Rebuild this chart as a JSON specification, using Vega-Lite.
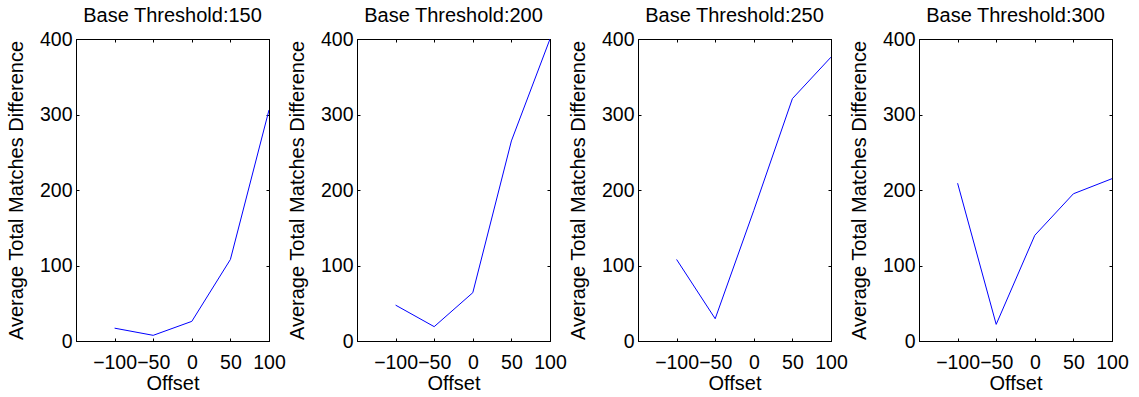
{
  "$schema": "https://vega.github.io/schema/vega-lite/v6.json",
  "padding": {"left": 5, "top": 5, "right": 5, "bottom": 0},
  "background": "#ffffff",
  "datasets": {
    "d": [
      {"threshold": 150, "offset": -100, "value": 17},
      {"threshold": 150, "offset": -50, "value": 7.5},
      {"threshold": 150, "offset": 0, "value": 26},
      {"threshold": 150, "offset": 50, "value": 108},
      {"threshold": 150, "offset": 100, "value": 306},
      {"threshold": 200, "offset": -100, "value": 47.5},
      {"threshold": 200, "offset": -50, "value": 19},
      {"threshold": 200, "offset": 0, "value": 64},
      {"threshold": 200, "offset": 50, "value": 265},
      {"threshold": 200, "offset": 100, "value": 400},
      {"threshold": 250, "offset": -100, "value": 108},
      {"threshold": 250, "offset": -50, "value": 29.5},
      {"threshold": 250, "offset": 0, "value": 173},
      {"threshold": 250, "offset": 50, "value": 321},
      {"threshold": 250, "offset": 100, "value": 376},
      {"threshold": 300, "offset": -100, "value": 209},
      {"threshold": 300, "offset": -50, "value": 22},
      {"threshold": 300, "offset": 0, "value": 140},
      {"threshold": 300, "offset": 50, "value": 195},
      {"threshold": 300, "offset": 100, "value": 215}
    ]
  },
  "config": {
    "font": "Liberation Sans",
    "view": {"stroke": "#000000", "strokeWidth": 1},
    "axis": {
      "grid": false,
      "domainColor": "#000000",
      "tickColor": "#000000",
      "labelColor": "#000000",
      "titleColor": "#000000",
      "labelFontSize": 19.5,
      "titleFontSize": 20,
      "titleFontWeight": "normal",
      "tickSize": -3,
      "labelOverlap": false,
      "labelBound": false,
      "labelFlush": false
    },
    "axisBottom": {"labelPadding": 15, "titlePadding": 2},
    "axisLeft": {"labelPadding": 7, "titlePadding": 13},
    "title": {"fontSize": 20, "fontWeight": "normal", "color": "#000000", "offset": 3, "anchor": "middle"}
  },
  "bounds": "flush",
  "spacing": 88,
  "hconcat": [
    {
      "title": "Base Threshold:150",
      "width": 193, "height": 302,
      "data": {"name": "d"},
      "transform": [{"filter": "datum.threshold == 150"}],
      "layer": [
        {"mark": {"type": "line", "color": "#0000ff", "strokeWidth": 1, "clip": true},
         "encoding": {
           "x": {"field": "offset", "type": "quantitative", "scale": {"domain": [-150, 100], "nice": false}, "axis": {"values": [-100, -50, 0, 50, 100], "title": "Offset"}},
           "y": {"field": "value", "type": "quantitative", "scale": {"domain": [0, 400], "nice": false}, "axis": {"values": [0, 100, 200, 300, 400], "title": "Average Total Matches Difference"}}
         }},
        {"mark": {"type": "line", "opacity": 0},
         "encoding": {
           "x": {"field": "offset", "type": "quantitative", "scale": {"domain": [-150, 100], "nice": false}, "axis": {"orient": "top", "values": [-100, -50, 0, 50, 100], "labels": false, "title": null}},
           "y": {"field": "value", "type": "quantitative", "scale": {"domain": [0, 400], "nice": false}, "axis": {"orient": "right", "values": [0, 100, 200, 300, 400], "labels": false, "title": null}}
         }}
      ],
      "resolve": {"scale": {"x": "independent", "y": "independent"}}
    },
    {
      "title": "Base Threshold:200",
      "width": 193, "height": 302,
      "data": {"name": "d"},
      "transform": [{"filter": "datum.threshold == 200"}],
      "layer": [
        {"mark": {"type": "line", "color": "#0000ff", "strokeWidth": 1, "clip": true},
         "encoding": {
           "x": {"field": "offset", "type": "quantitative", "scale": {"domain": [-150, 100], "nice": false}, "axis": {"values": [-100, -50, 0, 50, 100], "title": "Offset"}},
           "y": {"field": "value", "type": "quantitative", "scale": {"domain": [0, 400], "nice": false}, "axis": {"values": [0, 100, 200, 300, 400], "title": "Average Total Matches Difference"}}
         }},
        {"mark": {"type": "line", "opacity": 0},
         "encoding": {
           "x": {"field": "offset", "type": "quantitative", "scale": {"domain": [-150, 100], "nice": false}, "axis": {"orient": "top", "values": [-100, -50, 0, 50, 100], "labels": false, "title": null}},
           "y": {"field": "value", "type": "quantitative", "scale": {"domain": [0, 400], "nice": false}, "axis": {"orient": "right", "values": [0, 100, 200, 300, 400], "labels": false, "title": null}}
         }}
      ],
      "resolve": {"scale": {"x": "independent", "y": "independent"}}
    },
    {
      "title": "Base Threshold:250",
      "width": 193, "height": 302,
      "data": {"name": "d"},
      "transform": [{"filter": "datum.threshold == 250"}],
      "layer": [
        {"mark": {"type": "line", "color": "#0000ff", "strokeWidth": 1, "clip": true},
         "encoding": {
           "x": {"field": "offset", "type": "quantitative", "scale": {"domain": [-150, 100], "nice": false}, "axis": {"values": [-100, -50, 0, 50, 100], "title": "Offset"}},
           "y": {"field": "value", "type": "quantitative", "scale": {"domain": [0, 400], "nice": false}, "axis": {"values": [0, 100, 200, 300, 400], "title": "Average Total Matches Difference"}}
         }},
        {"mark": {"type": "line", "opacity": 0},
         "encoding": {
           "x": {"field": "offset", "type": "quantitative", "scale": {"domain": [-150, 100], "nice": false}, "axis": {"orient": "top", "values": [-100, -50, 0, 50, 100], "labels": false, "title": null}},
           "y": {"field": "value", "type": "quantitative", "scale": {"domain": [0, 400], "nice": false}, "axis": {"orient": "right", "values": [0, 100, 200, 300, 400], "labels": false, "title": null}}
         }}
      ],
      "resolve": {"scale": {"x": "independent", "y": "independent"}}
    },
    {
      "title": "Base Threshold:300",
      "width": 193, "height": 302,
      "data": {"name": "d"},
      "transform": [{"filter": "datum.threshold == 300"}],
      "layer": [
        {"mark": {"type": "line", "color": "#0000ff", "strokeWidth": 1, "clip": true},
         "encoding": {
           "x": {"field": "offset", "type": "quantitative", "scale": {"domain": [-150, 100], "nice": false}, "axis": {"values": [-100, -50, 0, 50, 100], "title": "Offset"}},
           "y": {"field": "value", "type": "quantitative", "scale": {"domain": [0, 400], "nice": false}, "axis": {"values": [0, 100, 200, 300, 400], "title": "Average Total Matches Difference"}}
         }},
        {"mark": {"type": "line", "opacity": 0},
         "encoding": {
           "x": {"field": "offset", "type": "quantitative", "scale": {"domain": [-150, 100], "nice": false}, "axis": {"orient": "top", "values": [-100, -50, 0, 50, 100], "labels": false, "title": null}},
           "y": {"field": "value", "type": "quantitative", "scale": {"domain": [0, 400], "nice": false}, "axis": {"orient": "right", "values": [0, 100, 200, 300, 400], "labels": false, "title": null}}
         }}
      ],
      "resolve": {"scale": {"x": "independent", "y": "independent"}}
    }
  ]
}
